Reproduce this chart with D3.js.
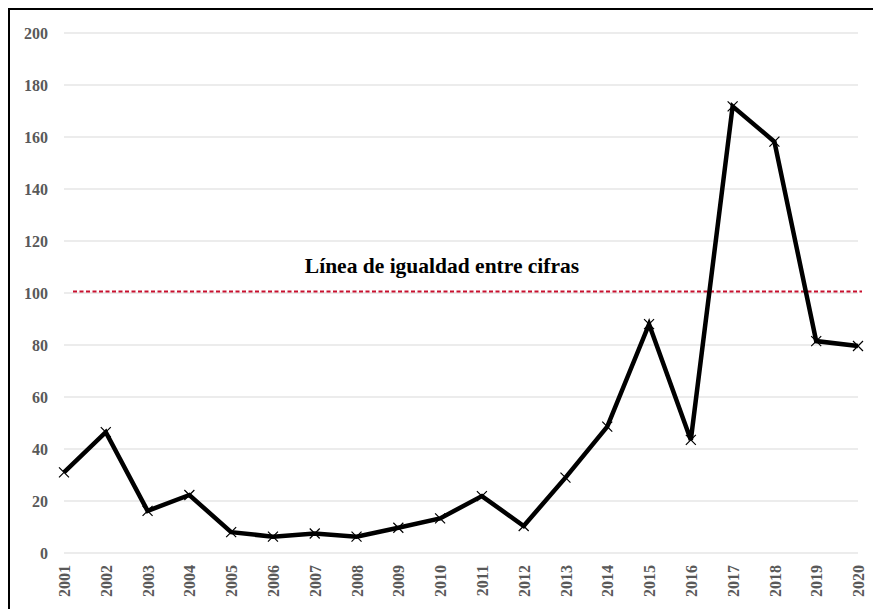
<!DOCTYPE html>
<html>
<head>
<meta charset="utf-8">
<script src="https://cdn.jsdelivr.net/npm/d3@7"></script>
<style>
  body { margin: 0; background: #fff; }
  svg text { font-family: "Liberation Serif", "Times New Roman", serif; font-weight: bold; }
</style>
</head>
<body>
<script>
// data
const years = ['2001', '2002', '2003', '2004', '2005', '2006', '2007', '2008', '2009', '2010',
               '2011', '2012', '2013', '2014', '2015', '2016', '2017', '2018', '2019', '2020'];
const values = [31, 46.5, 16.2, 22.3, 8, 6.3, 7.5, 6.3, 9.7, 13.3,
                21.9, 10.4, 29, 48.6, 88, 43.5, 171.8, 158.2, 81.5, 79.6];
const yTicks = [0, 20, 40, 60, 80, 100, 120, 140, 160, 180, 200];
const equalityValue = 100.6;
const equalityLabel = 'Línea de igualdad entre cifras';

const width = 873, height = 609;
const margin = { left: 64, right: 15, top: 33, bottom: 56 };
const serif = '"Liberation Serif", "Times New Roman", serif';

const svg = d3.select('body').append('svg')
    .attr('width', width)
    .attr('height', height);

// outer frame (runs past the right and bottom edges)
svg.append('rect')
    .attr('x', 9).attr('y', 9)
    .attr('width', 900).attr('height', 640)
    .attr('fill', 'none')
    .attr('stroke', '#000')
    .attr('stroke-width', 2);

const x = d3.scalePoint().domain(years).range([margin.left, width - margin.right]);
const y = d3.scaleLinear().domain([0, 200]).range([height - margin.bottom, margin.top]);

// gridlines
svg.append('g').selectAll('line').data(yTicks).enter()
    .append('line')
    .attr('x1', margin.left).attr('x2', width - margin.right)
    .attr('y1', d => y(d)).attr('y2', d => y(d))
    .attr('stroke', '#d9d9d9')
    .attr('stroke-width', 1);

// y axis labels
const yAxis = svg.append('g')
    .attr('transform', `translate(${margin.left - 16},0)`)
    .call(d3.axisLeft(y).tickValues(yTicks).tickSize(0).tickPadding(0))
    .attr('font-family', serif)
    .attr('font-size', 16);
yAxis.select('.domain').remove();
yAxis.selectAll('text')
    .attr('fill', '#595959');

// x axis labels, rotated
const xAxis = svg.append('g')
    .attr('transform', `translate(0,${y(0) + 12})`)
    .call(d3.axisBottom(x).tickSize(0).tickPadding(0))
    .attr('font-family', serif)
    .attr('font-size', 16);
xAxis.select('.domain').remove();
xAxis.selectAll('text')
    .attr('fill', '#595959')
    .attr('text-anchor', 'end')
    .attr('dy', '0.35em')
    .attr('transform', 'rotate(-90)');

// equality line
svg.append('line')
    .attr('x1', 73).attr('x2', 862)
    .attr('y1', y(equalityValue)).attr('y2', y(equalityValue))
    .attr('stroke', '#c8102e')
    .attr('stroke-width', 2)
    .attr('stroke-dasharray', '4,2.5');

svg.append('text')
    .attr('x', 442)
    .attr('y', y(equalityValue) - 18)
    .attr('text-anchor', 'middle')
    .attr('fill', '#000')
    .style('font-size', '21.5px')
    .text(equalityLabel);

// series line
const line = d3.line()
    .x((d, i) => x(years[i]))
    .y(d => y(d));

svg.append('path')
    .datum(values)
    .attr('d', line)
    .attr('fill', 'none')
    .attr('stroke', '#000')
    .attr('stroke-width', 4.5)
    .attr('stroke-linejoin', 'miter');

// x markers
const s = 5;
svg.append('g').selectAll('path').data(values).enter()
    .append('path')
    .attr('transform', (d, i) => `translate(${x(years[i])},${y(d)})`)
    .attr('d', `M${-s},${-s}L${s},${s}M${-s},${s}L${s},${-s}`)
    .attr('stroke', '#000')
    .attr('stroke-width', 1.2)
    .attr('fill', 'none');
</script>
</body>
</html>
